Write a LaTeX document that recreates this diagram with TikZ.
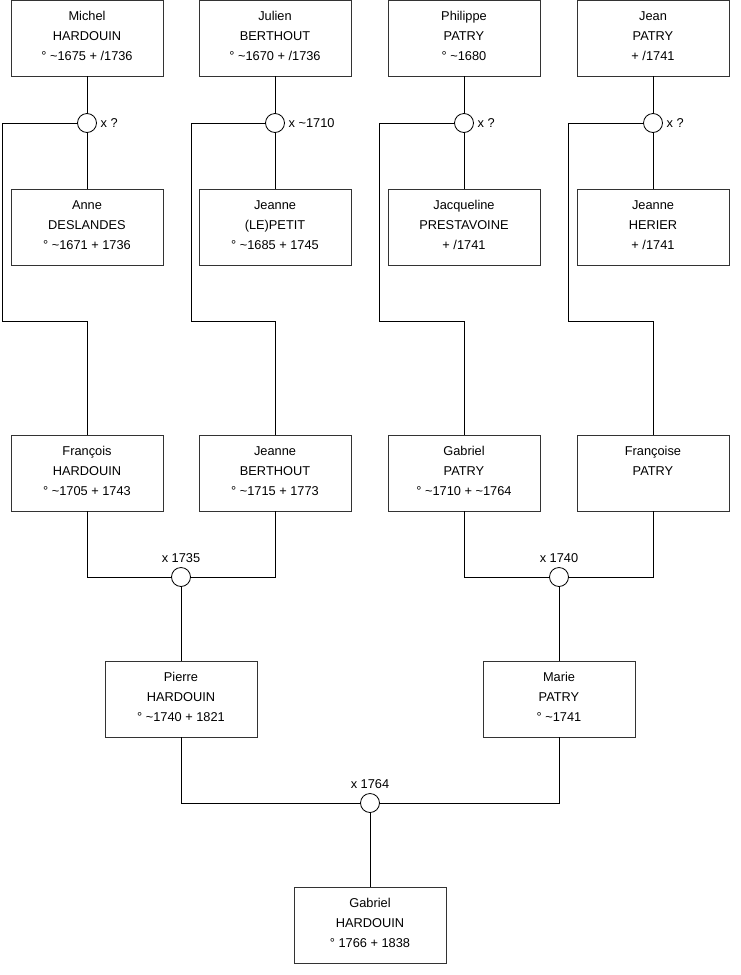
\documentclass[tikz,border=0pt]{standalone}
\usepackage{fontspec}
\setmainfont{Liberation Sans}
\newcommand\ptext[1]{\begin{tabular}[b]{@{}c@{}}#1\end{tabular}\rule[-10pt]{0pt}{10pt}}
\begin{document}
\begin{tikzpicture}[x=1pt,y=-1pt,
  person/.style={draw=black!80, line width=0.8pt, minimum width=152pt, minimum height=76pt, inner sep=0pt, font=\fontsize{12.8}{20}\selectfont},
  wed/.style={draw, circle, line width=0.8pt, minimum size=19pt, inner sep=0pt, fill=white},
  wlab/.style={font=\fontsize{12.8}{15}\selectfont, inner sep=0pt},
  link/.style={line width=0.8pt, black}]
\useasboundingbox (0,0) rectangle (740,975);
% top row
\node[person] (a1) at (87,38) {\ptext{Michel\\HARDOUIN\\° \textasciitilde1675 + /1736}};
\node[person] (a2) at (275,38) {\ptext{Julien\\BERTHOUT\\° \textasciitilde1670 + /1736}};
\node[person] (a3) at (464,38) {\ptext{Philippe\\PATRY\\° \textasciitilde1680}};
\node[person] (a4) at (653,38) {\ptext{Jean\\PATRY\\+ /1741}};
% second row
\node[person] (b1) at (87,227) {\ptext{Anne\\DESLANDES\\° \textasciitilde1671 + 1736}};
\node[person] (b2) at (275,227) {\ptext{Jeanne\\(LE)PETIT\\° \textasciitilde1685 + 1745}};
\node[person] (b3) at (464,227) {\ptext{Jacqueline\\PRESTAVOINE\\+ /1741}};
\node[person] (b4) at (653,227) {\ptext{Jeanne\\HERIER\\+ /1741}};
% third row
\node[person] (c1) at (87,473) {\ptext{François\\HARDOUIN\\° \textasciitilde1705 + 1743}};
\node[person] (c2) at (275,473) {\ptext{Jeanne\\BERTHOUT\\° \textasciitilde1715 + 1773}};
\node[person] (c3) at (464,473) {\ptext{Gabriel\\PATRY\\° \textasciitilde1710 + \textasciitilde1764}};
\node[person] (c4) at (653,473) {\ptext{Françoise\\PATRY\\~}};
% fourth row
\node[person] (d1) at (181,699) {\ptext{Pierre\\HARDOUIN\\° \textasciitilde1740 + 1821}};
\node[person] (d2) at (559,699) {\ptext{Marie\\PATRY\\° \textasciitilde1741}};
% bottom
\node[person] (e1) at (370,925) {\ptext{Gabriel\\HARDOUIN\\° 1766 + 1838}};
% marriages
\node[wed] (m1) at (87,123) {};
\node[wed] (m2) at (275,123) {};
\node[wed] (m3) at (464,123) {};
\node[wed] (m4) at (653,123) {};
\node[wed] (m5) at (181,577) {};
\node[wed] (m6) at (559,577) {};
\node[wed] (m7) at (370,803) {};
\node[wlab, anchor=west] (l1) at ([xshift=3.5pt]m1.east) {x ?};
\node[wlab, anchor=west] (l2) at ([xshift=3.5pt]m2.east) {x \textasciitilde1710};
\node[wlab, anchor=west] (l3) at ([xshift=3.5pt]m3.east) {x ?};
\node[wlab, anchor=west] (l4) at ([xshift=3.5pt]m4.east) {x ?};
\node[wlab] (l5) at (181,558) {x 1735};
\node[wlab] (l6) at (559,558) {x 1740};
\node[wlab] (l7) at (370,784) {x 1764};
% bend coordinates
\coordinate (k1) at (2,321);
\coordinate (k2) at (191,321);
\coordinate (k3) at (379,321);
\coordinate (k4) at (568,321);
% connectors
\foreach \i in {1,2,3,4}{
  \draw[link] (a\i.south) -- (m\i.north);
  \draw[link] (m\i.south) -- (b\i.north);
  \draw[link] (m\i.west) -| (k\i) -| (c\i.north);
}
\draw[link] (c1.south) |- (m5.west);
\draw[link] (c2.south) |- (m5.east);
\draw[link] (m5.south) -- (d1.north);
\draw[link] (c3.south) |- (m6.west);
\draw[link] (c4.south) |- (m6.east);
\draw[link] (m6.south) -- (d2.north);
\draw[link] (d1.south) |- (m7.west);
\draw[link] (d2.south) |- (m7.east);
\draw[link] (m7.south) -- (e1.north);
\end{tikzpicture}
\end{document}
